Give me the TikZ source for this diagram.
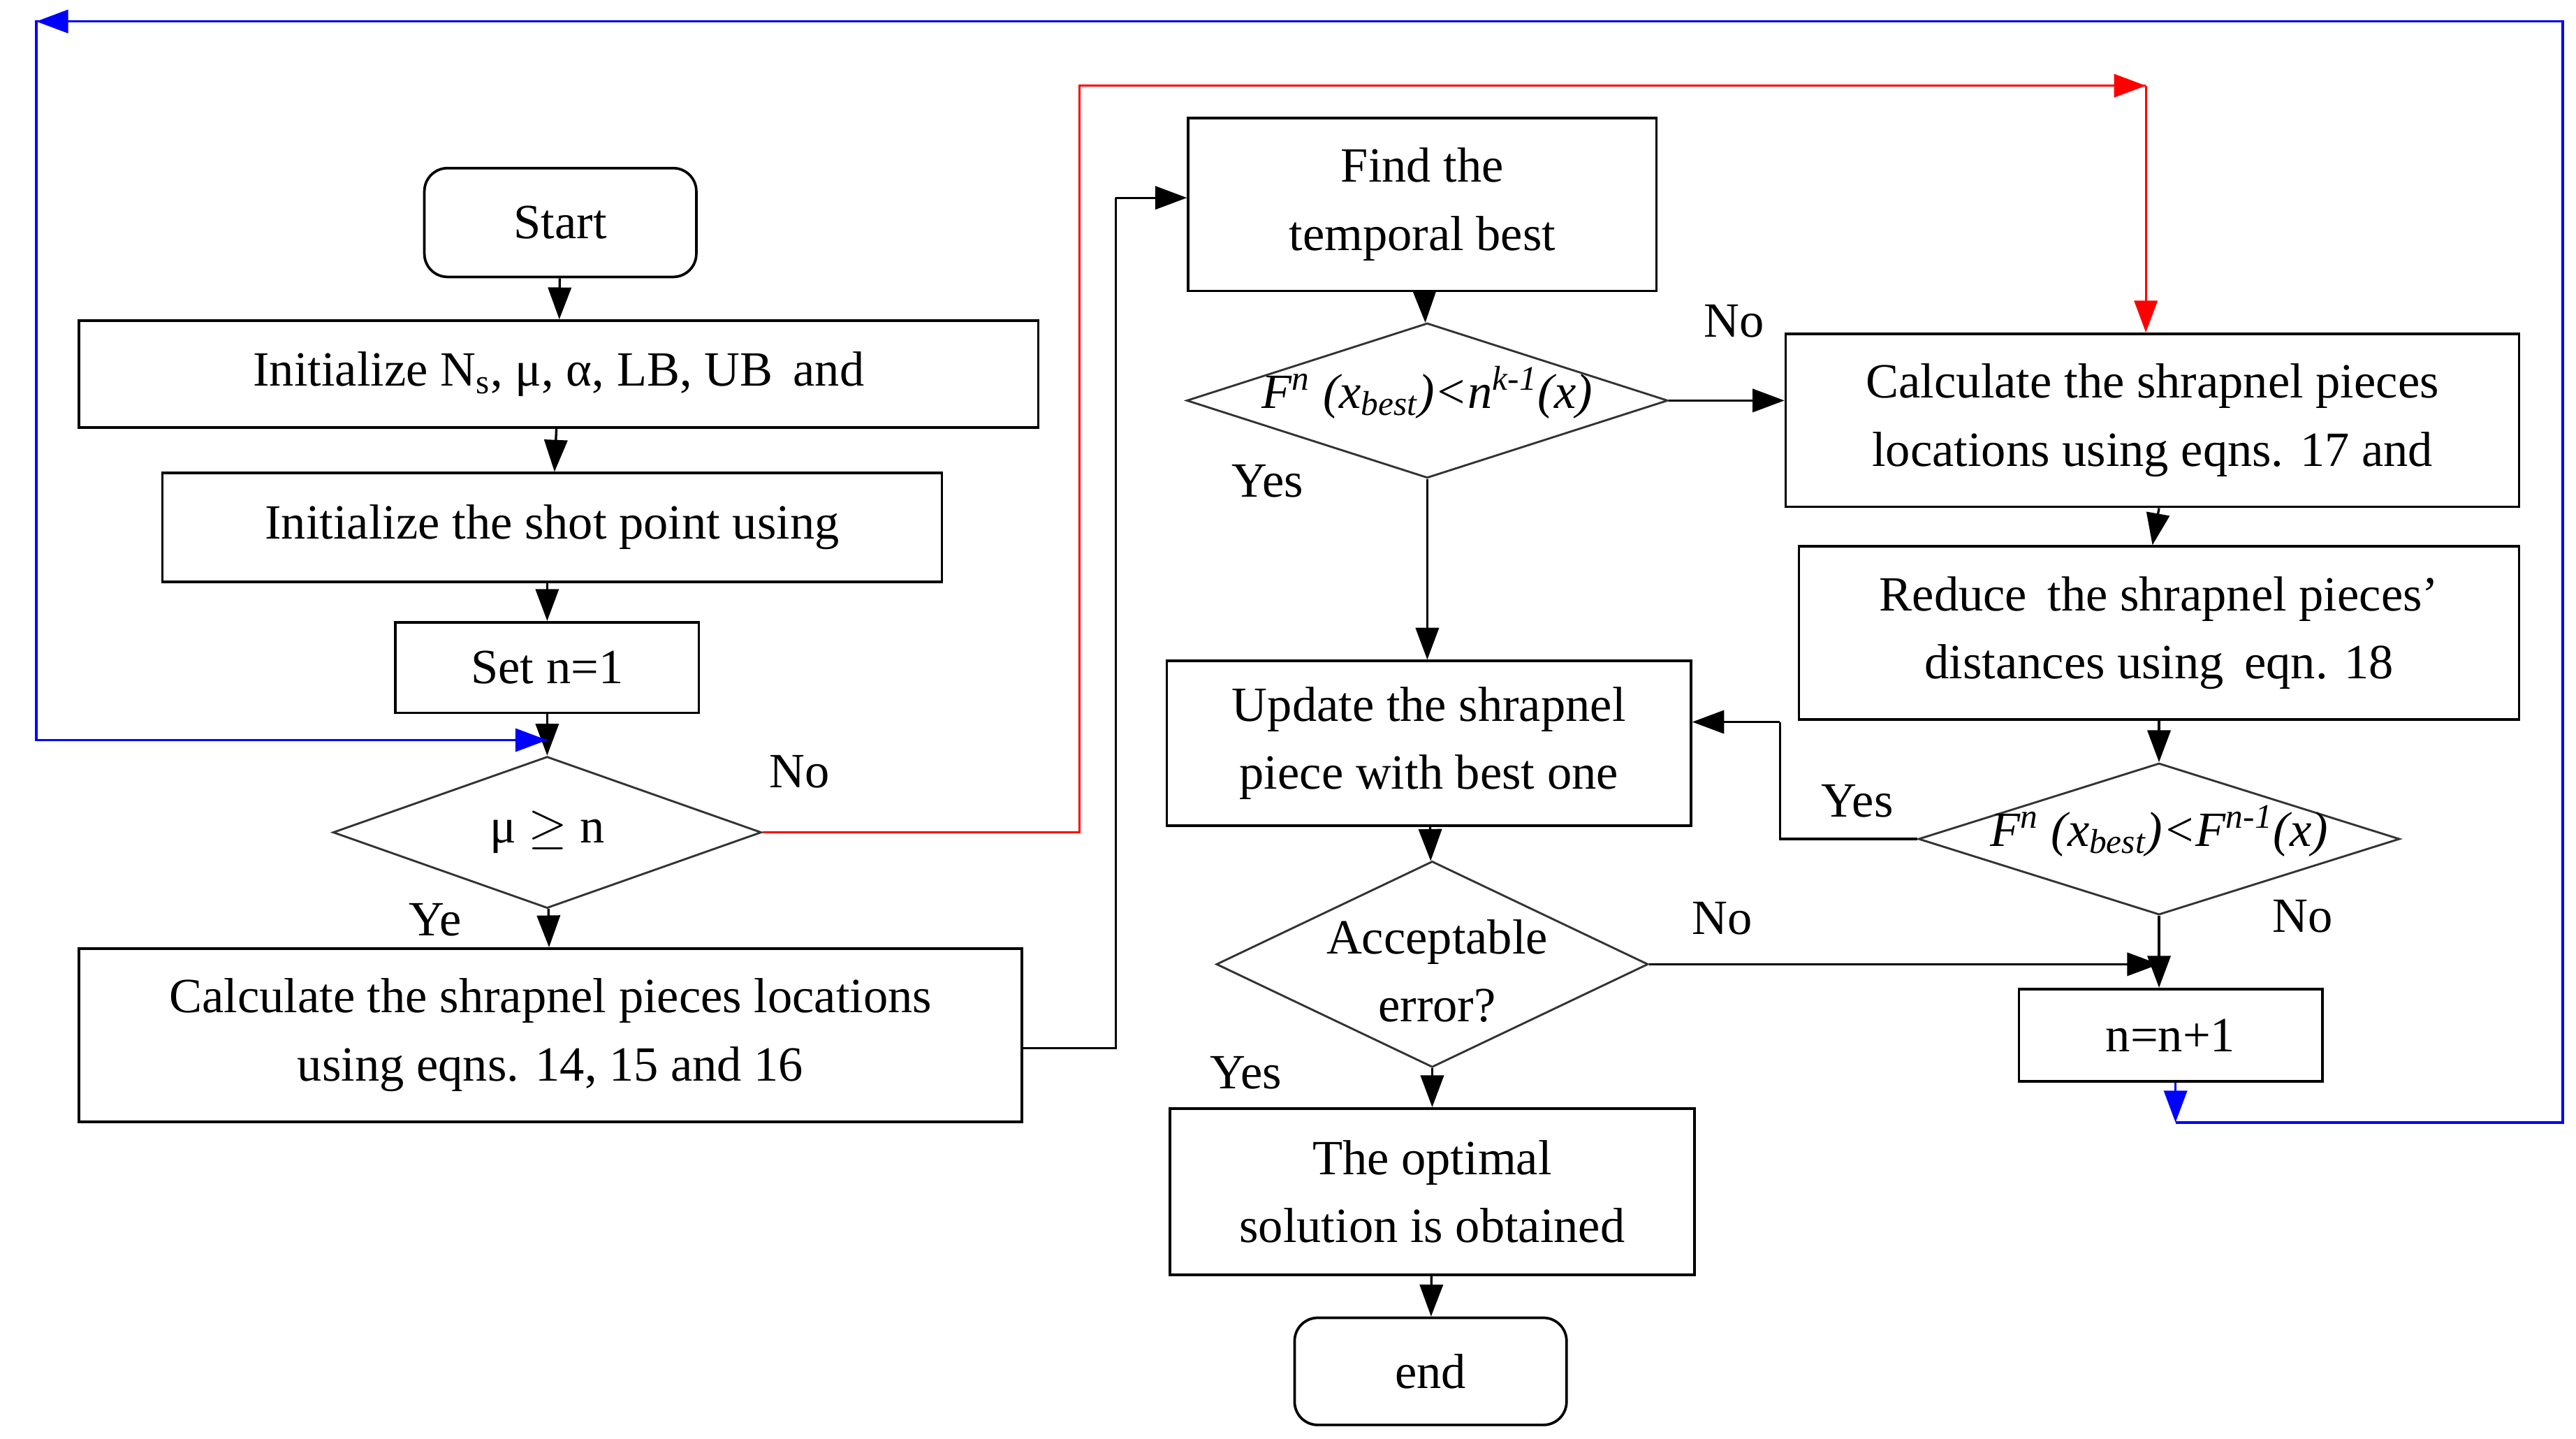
\documentclass[tikz,border=0pt]{standalone}
\usepackage{fontspec}
\setmainfont{Liberation Serif}
\usetikzlibrary{arrows.meta,shapes.geometric}
\begin{document}
\begin{tikzpicture}[x=0.02cm,y=-0.02cm,
 every node/.style={font=\fontsize{17}{23.5}\selectfont},
 box/.style={draw,line width=0.9pt,inner sep=0pt,align=center},
 rbox/.style={box,rounded corners=8pt},
 dia/.style={draw,line width=0.7pt,draw=black!80,shape=diamond,inner sep=0pt,aspect=2},
 lbl/.style={inner sep=0pt},
 arr/.style={line width=0.8pt,-{Triangle[length=11pt,width=8pt]}},
 ln/.style={line width=0.8pt}]
\useasboundingbox (0,0) rectangle (1563,873);
% nodes
\node[rbox,minimum width=165*0.02cm,minimum height=66*0.02cm] (start) at (340,135) {Start};
\node[box,minimum width=582*0.02cm,minimum height=65*0.02cm] (init1) at (339,227) {Initialize N\textsubscript{s}, μ, α, LB, UB\, and};
\node[box,minimum width=473*0.02cm,minimum height=66*0.02cm] (init2) at (335,320) {Initialize the shot point using};
\node[box,minimum width=184*0.02cm,minimum height=55*0.02cm] (setn) at (332,405) {Set n=1};
\node[dia,minimum width=260*0.02cm,minimum height=92*0.02cm] (mu) at (332,505) {μ $\geq$ n};
\node[box,minimum width=572*0.02cm,minimum height=105*0.02cm] (calc1) at (334,628) {Calculate the shrapnel pieces locations\\using eqns. 14, 15 and 16};
\node[box,minimum width=284*0.02cm,minimum height=105*0.02cm] (find) at (863,124) {Find the\\temporal best};
\node[dia,minimum width=292*0.02cm,minimum height=94*0.02cm] (f1) at (866,243) {};
\node[lbl] at (866,238) {\itshape F\textsuperscript{n} (x\textsubscript{best})<n\textsuperscript{k-1}(x)};
\node[box,minimum width=445*0.02cm,minimum height=105*0.02cm] (calcr) at (1306,255) {Calculate the shrapnel pieces\\locations using eqns. 17 and};
\node[box,minimum width=437*0.02cm,minimum height=105*0.02cm] (reduce) at (1310,384) {Reduce\, the shrapnel pieces'\\distances using\, eqn. 18};
\node[dia,minimum width=292*0.02cm,minimum height=92*0.02cm] (f2) at (1310,509) {};
\node[lbl] at (1310,504) {\itshape F\textsuperscript{n} (x\textsubscript{best})<F\textsuperscript{n-1}(x)};
\node[box,minimum width=318*0.02cm,minimum height=100*0.02cm] (update) at (867,451) {Update the shrapnel\\piece with best one};
\node[dia,minimum width=262*0.02cm,minimum height=125*0.02cm] (acc) at (869,585) {};
\node[lbl,align=center] at (872,589) {Acceptable\\error?};
\node[box,minimum width=184*0.02cm,minimum height=56*0.02cm] (nn) at (1317,628) {n=n+1};
\node[box,minimum width=318*0.02cm,minimum height=101*0.02cm] (opt) at (869,723) {The optimal\\solution is obtained};
\node[rbox,minimum width=165*0.02cm,minimum height=65*0.02cm] (end) at (868,832) {end};
% labels
\node[lbl] at (485,468) {No};
\node[lbl] at (264,558) {Ye};
\node[lbl] at (1052,195) {No};
\node[lbl] at (769,292) {Yes};
\node[lbl] at (1127,486) {Yes};
\node[lbl] at (1397,556) {No};
\node[lbl] at (1045,557) {No};
\node[lbl] at (756,651) {Yes};
% coordinates
\coordinate (r1) at (655,505);
\coordinate (r2) at (655,52);
\coordinate (r3) at (1302,52);
\coordinate (c1) at (677,636);
\coordinate (c2) at (677,120);
\coordinate (y1) at (1080,509);
\coordinate (y2) at (1080,438);
\coordinate (a1) at (1310,585);
\coordinate (b0) at (1320,681);
\coordinate (b1) at (1555,681);
\coordinate (b2) at (1555,13);
\coordinate (b3) at (22,13);
\coordinate (b4) at (22,449);
\coordinate (b5) at (332,449);
% connectors
\draw[arr] (start) -- (init1);
\draw[arr] (init1) -- (init2);
\draw[arr] (init2.south -| setn) -- (setn);
\draw[arr] (setn) -- (mu);
\draw[arr] (mu) -- (calc1);
\draw[ln,red] (mu.east) -- (r1) -- (r2) -- (r3);
\draw[arr,red] (r2) -- (r3);
\draw[arr,red] (r3) -- (calcr.north -| r3);
\draw[ln] (calc1.east |- c1) -- (c1) -- (c2);
\draw[arr] (c2) -- (find.west |- c2);
\draw[arr] (find) -- (f1);
\draw[arr] (f1) -- (calcr.west |- f1);
\draw[arr] (f1) -- (update.north -| f1);
\draw[arr] (calcr.south -| reduce) -- (reduce.north -| calcr);
\draw[arr] (reduce) -- (f2);
\draw[ln] (f2.west) -- (y1) -- (y2);
\draw[arr] (y2) -- (update.east |- y2);
\draw[arr] (f2.south) -- (nn.north -| f2);
\draw[arr] (update) -- (acc);
\draw[arr] (acc.east) -- (a1);
\draw[arr] (acc) -- (opt);
\draw[arr] (opt) -- (end);
\draw[ln,blue] (b0) -- (b1) -- (b2) -- (b3) -- (b4) -- (b5);
\draw[arr,blue] (nn.south -| b0) -- (b0);
\draw[arr,blue] (b2) -- (b3);
\draw[arr,blue] (b4) -- (b5);
\end{tikzpicture}
\end{document}
